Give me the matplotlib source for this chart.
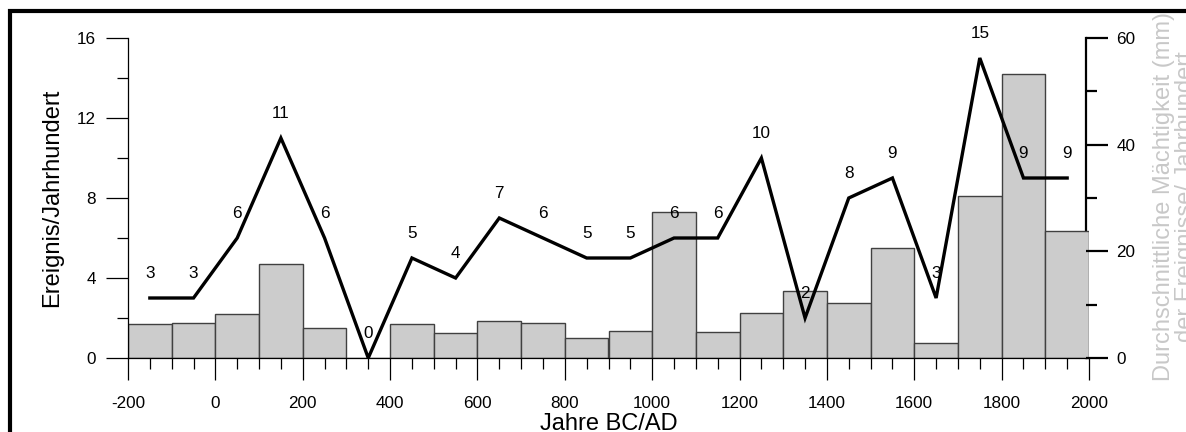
import matplotlib.pyplot as plt
import numpy as np
from matplotlib.patches import Rectangle
from matplotlib.ticker import MultipleLocator, FixedLocator

plt.rcParams['font.family'] = ['Liberation Sans', 'DejaVu Sans']
plt.rcParams['axes.unicode_minus'] = False

# century bins (left edges) and their mean thickness in mm (right axis)
bin_left = np.arange(-200, 2000, 100)
thickness_mm = [6.3, 6.6, 8.3, 17.7, 5.7, 0, 6.3, 4.7, 7.0, 6.6, 3.75, 5.1,
                27.3, 4.9, 8.4, 12.5, 10.4, 20.6, 2.9, 30.4, 53.3, 23.9]

# events per century, plotted at the century midpoints
centers = np.arange(-150, 2000, 100)
events = [3, 3, 6, 11, 6, 0, 5, 4, 7, 6, 5, 5, 6, 6, 10, 2, 8, 9, 3, 15, 9, 9]

fig = plt.figure(figsize=(11.86, 4.32), dpi=100)
ax = fig.add_axes([128 / 1186, 74 / 432, 961 / 1186, 320 / 432])
ax2 = ax.twinx()

# bars on the right (mm) axis, below the line axis
ax2.bar(bin_left, thickness_mm, width=100, align='edge',
        color='#cccccc', edgecolor='#404040', linewidth=1.0, zorder=1)
ax2.set_ylim(0, 60)
ax2.yaxis.set_major_locator(MultipleLocator(20))
ax2.yaxis.set_minor_locator(FixedLocator([10, 30, 50]))
ax2.tick_params(axis='y', which='major', length=16, width=1.6, pad=6, labelsize=12.3)
ax2.tick_params(axis='y', which='minor', length=8, width=1.6)
for s in ['top', 'left', 'bottom']:
    ax2.spines[s].set_visible(False)
ax2.spines['right'].set_position(('data', 1993))
ax2.spines['right'].set_linewidth(1.6)
ax2.spines['right'].set_zorder(0.5)
ax2.tick_params(axis='x', which='both', bottom=False, labelbottom=False)

ax.set_zorder(ax2.get_zorder() + 1)
ax.patch.set_visible(False)

ax.plot(centers, events, color='black', lw=2.4, solid_joinstyle='miter', zorder=3)
for x, v in zip(centers, events):
    ax.annotate(str(v), (x, v), xytext=(0, 18), textcoords='offset points',
                ha='center', va='center', fontsize=12.3, zorder=4)

ax.set_xlim(-200, 2000)
ax.set_ylim(0, 16)
ax.xaxis.set_major_locator(MultipleLocator(200))
ax.xaxis.set_minor_locator(MultipleLocator(50))
ax.yaxis.set_major_locator(MultipleLocator(4))
ax.yaxis.set_minor_locator(MultipleLocator(2))
ax.tick_params(axis='both', which='major', length=16, width=0.9, labelsize=12.3)
ax.tick_params(axis='both', which='minor', length=8, width=0.9)
ax.tick_params(axis='y', which='major', pad=7)
ax.tick_params(axis='x', which='major', pad=11)
for s in ['top', 'right']:
    ax.spines[s].set_visible(False)
ax.spines['left'].set_linewidth(0.9)
ax.spines['bottom'].set_linewidth(0.9)

ax.set_ylabel('Ereignis/Jahrhundert', fontsize=17, labelpad=10)
ax.set_xlabel('Jahre BC/AD', fontsize=17, labelpad=2)

fig.text(1175 / 1186, (432 - 196.5) / 432,
         'Durchschnittliche Mächtigkeit (mm)\nder Ereignisse/ Jahrhundert',
         rotation=90, ha='center', va='center', multialignment='center',
         fontsize=17, color='#c8c8c8', linespacing=1.0)

# heavy frame line along the top and left edge
fig.add_artist(Rectangle((10 / 1186, -0.2), 1.5, (432 - 11.5) / 432 + 0.2,
                         transform=fig.transFigure, fill=False,
                         edgecolor='black', linewidth=3, clip_on=False))

fig.savefig('out.png', dpi=100)
